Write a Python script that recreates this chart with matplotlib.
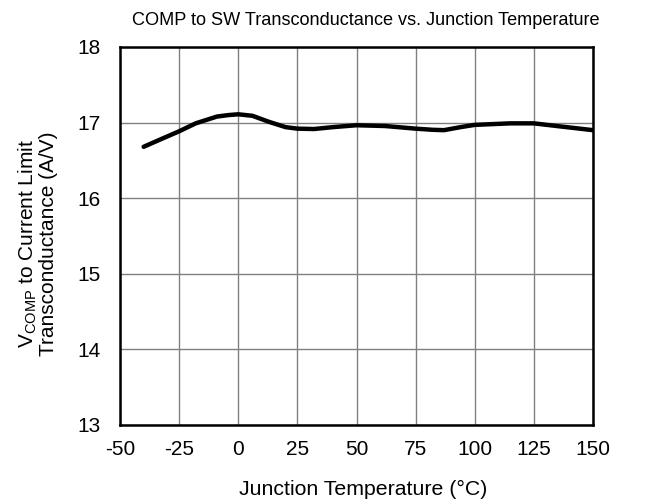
import matplotlib
matplotlib.use("Agg")
import matplotlib.pyplot as plt

plt.rcParams['font.family'] = ['Liberation Sans', 'DejaVu Sans']
plt.rcParams['mathtext.fontset'] = 'custom'
plt.rcParams['mathtext.rm'] = 'Liberation Sans'
plt.rcParams['mathtext.it'] = 'Liberation Sans'
plt.rcParams['axes.unicode_minus'] = False

temps = [-40, -32, -25, -18, -9, -4, 0, 6, 13, 20, 25, 32, 40, 50, 62, 75, 82, 87, 94, 100, 115, 125, 136, 150]
gm = [16.68, 16.79, 16.885, 16.99, 17.08, 17.10, 17.11, 17.09, 17.01, 16.94, 16.92, 16.915, 16.94, 16.965,
      16.955, 16.92, 16.905, 16.90, 16.94, 16.97, 16.99, 16.99, 16.95, 16.90]
xticks = [-50, -25, 0, 25, 50, 75, 100, 125, 150]
yticks = [13, 14, 15, 16, 17, 18]

fig = plt.figure(figsize=(6.45, 5.04), dpi=100)
ax = fig.add_axes([120/645, 1-425/504, (593-120)/645, (425-47)/504])
ax.plot(temps, gm, color='black', lw=3.2, solid_capstyle='round', solid_joinstyle='round')
ax.set_xlim(-50, 150)
ax.set_ylim(13, 18)
ax.set_xticks(xticks)
ax.set_yticks(yticks)
ax.grid(True, color='#808080', lw=1.0)
ax.tick_params(length=0, labelsize=15)
ax.tick_params(axis='x', pad=11)
ax.tick_params(axis='y', pad=14)
for s in ax.spines.values():
    s.set_linewidth(1.8)
ax.set_xlabel('Junction Temperature (\u00b0C)', fontsize=15.3)
ax.xaxis.set_label_coords(0.514, -0.146)
ax.set_ylabel('V$_\\mathrm{COMP}$ to Current Limit\nTransconductance (A/V)', fontsize=15, linespacing=1.0)
ax.yaxis.set_label_coords(-0.132, 0.48)
ax.set_title('COMP to SW Transconductance vs. Junction Temperature', fontsize=13.1, x=0.52, pad=16)
fig.savefig('out.png', dpi=100)
